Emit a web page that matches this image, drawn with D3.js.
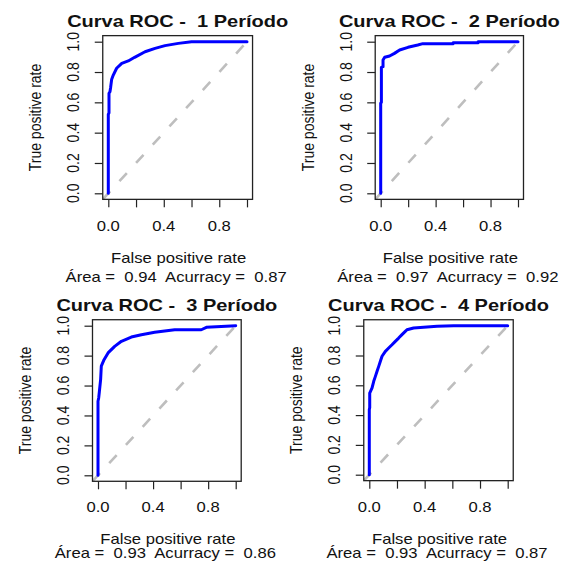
<!DOCTYPE html>
<meta charset="utf-8">
<head>
  <title>Curvas ROC por período</title>
</head>
<style>
  body { margin: 0; background: #fff; }
  svg { display: block; font-family: "Liberation Sans", Arial, sans-serif; }
  .tick line, .box { stroke: #222; }
  .lbl { fill: #111; white-space: pre; }
</style>
<body>
<script src="https://cdn.jsdelivr.net/npm/d3@7"></script>
<script>
// ROC points (false positive rate / true positive rate)
var fpr1 = [0, 0, 0.005, 0.005, 0.012, 0.017, 0.024, 0.036, 0.06, 0.097, 0.144, 0.19, 0.265, 0.337, 0.409, 0.505, 0.6, 1.0];
var tpr1 = [0, 0.52, 0.53, 0.66, 0.67, 0.70, 0.75, 0.78, 0.825, 0.857, 0.873, 0.897, 0.934, 0.956, 0.974, 0.989, 1.0, 1.0];

var fpr2 = [0, 0, 0.005, 0.005, 0.017, 0.017, 0.029, 0.065, 0.10, 0.138, 0.199, 0.27, 0.307, 0.527, 0.527, 0.709, 0.709, 1.0];
var tpr2 = [0, 0.594, 0.6, 0.831, 0.835, 0.879, 0.897, 0.906, 0.923, 0.945, 0.963, 0.978, 0.987, 0.987, 0.993, 0.993, 1.0, 1.0];

var fpr3 = [0, 0, 0.005, 0.01, 0.019, 0.024, 0.044, 0.073, 0.121, 0.17, 0.242, 0.315, 0.412, 0.557, 0.75, 0.787, 0.895, 1.0];
var tpr3 = [0, 0.495, 0.517, 0.56, 0.64, 0.73, 0.773, 0.818, 0.862, 0.896, 0.924, 0.94, 0.956, 0.973, 0.973, 0.989, 0.995, 1.0];

var fpr4 = [0, 0, 0.003, 0.003, 0.02, 0.032, 0.044, 0.056, 0.068, 0.08, 0.092, 0.116, 0.14, 0.164, 0.188, 0.212, 0.236, 0.26, 0.272, 0.32, 0.49, 0.61, 1.0];
var tpr4 = [0, 0.436, 0.45, 0.548, 0.582, 0.627, 0.66, 0.694, 0.727, 0.761, 0.795, 0.828, 0.85, 0.872, 0.895, 0.917, 0.94, 0.962, 0.973, 0.985, 0.996, 1.0, 1.0];

var periods = [1, 2, 3, 4];
var areas = ["0.94", "0.97", "0.93", "0.93"];
var accuracies = ["0.87", "0.92", "0.86", "0.87"];

var tickValues = [0, 0.2, 0.4, 0.6, 0.8, 1];
var xTickLabels = ["0.0", "", "0.4", "", "0.8", ""];
var yTickLabels = ["0.0", "0.2", "0.4", "0.6", "0.8", "1.0"];

var fprs = [fpr1, fpr2, fpr3, fpr4],
    tprs = [tpr1, tpr2, tpr3, tpr4];

// panel placement: pixel position of 0 and 1 on each axis, and text baselines
var layout = [
  {x0: 108.3, x1: 247.0, y0: 193.3, y1: 41.7, title: 27,  ticks: 231,   xlab: 263, sub: 281.5},
  {x0: 380.7, x1: 518.0, y0: 193.3, y1: 41.7, title: 27,  ticks: 231,   xlab: 263, sub: 281.5},
  {x0: 98.0,  x1: 235.7, y0: 475.3, y1: 325.7, title: 311, ticks: 511.5, xlab: 544, sub: 558},
  {x0: 369.3, x1: 507.7, y0: 474.7, y1: 325.7, title: 311, ticks: 511.5, xlab: 544, sub: 558}
];

var sx = 1.19; // the picture is a bit wider than tall, so glyphs are too

var svg = d3.select("body").append("svg")
    .attr("width", 571)
    .attr("height", 564);

svg.append("rect").attr("width", 571).attr("height", 564).attr("fill", "#fff");

// text helper, stretched horizontally like the reference
function label(g, x, y, str, size, rotated, bold) {
  return g.append("text")
      .attr("class", "lbl")
      .attr("transform", "translate(" + x + "," + y + ") scale(" + sx + ",1)" + (rotated ? " rotate(-90)" : ""))
      .attr("text-anchor", "middle")
      .attr("dy", rotated ? "0.36em" : null)
      .style("font-size", size + "px")
      .style("font-weight", bold ? "bold" : "normal")
      .text(str);
}

periods.forEach(function(p, i) {
  var L = layout[i];
  var x = d3.scaleLinear().domain([0, 1]).range([L.x0, L.x1]),
      y = d3.scaleLinear().domain([0, 1]).range([L.y0, L.y1]);
  var g = svg.append("g");

  var left = x(-0.04), right = x(1.04), top = y(1.04), bottom = y(-0.04);

  g.append("clipPath").attr("id", "clip" + i)
    .append("rect")
      .attr("x", left).attr("y", top)
      .attr("width", right - left).attr("height", bottom - top);

  // reference diagonal
  g.append("line")
      .attr("clip-path", "url(#clip" + i + ")")
      .attr("x1", x(-0.04)).attr("y1", y(-0.04))
      .attr("x2", x(1.04)).attr("y2", y(1.04))
      .attr("stroke", "#bebebe")
      .attr("stroke-width", 2.6)
      .attr("stroke-dasharray", "11,13.7");

  // roc curve
  var pts = fprs[i].map(function(f, k) { return [f, tprs[i][k]]; });
  g.append("path")
      .datum(pts)
      .attr("fill", "none")
      .attr("stroke", "#0000ff")
      .attr("stroke-width", 3)
      .attr("stroke-linejoin", "round")
      .attr("stroke-linecap", "round")
      .attr("d", d3.line().x(function(d) { return x(d[0]); }).y(function(d) { return y(d[1]); }));

  // box
  g.append("rect")
      .attr("class", "box")
      .attr("x", left).attr("y", top)
      .attr("width", right - left).attr("height", bottom - top)
      .attr("fill", "none")
      .attr("stroke-width", 1.3);

  // axes (ticks only, the box gives the axis line)
  var xa = g.append("g")
      .attr("transform", "translate(0," + bottom + ")")
      .call(d3.axisBottom(x).tickValues(tickValues).tickSize(8).tickFormat(""));
  var ya = g.append("g")
      .attr("transform", "translate(" + left + ",0)")
      .call(d3.axisLeft(y).tickValues(tickValues).tickSize(8).tickFormat(""));
  xa.select(".domain").remove();
  ya.select(".domain").remove();
  g.selectAll(".tick line").attr("stroke-width", 1.2);

  tickValues.forEach(function(v, k) {
    if (xTickLabels[k]) label(g, x(v), L.ticks, xTickLabels[k], 14);
    label(g, x(0) - 35, y(v), yTickLabels[k], 14, true);
  });

  label(g, x(0.5), L.title, "Curva ROC -  " + p + " Período", 16.8, false, true);
  label(g, x(0) - 73, y(0.5), "True positive rate", 14, true);
  label(g, x(0.5) + 1, L.xlab, "False positive rate", 14);
  label(g, x(0.5) - 1.5, L.sub, "Área =  " + areas[i] + "  Acurracy =  " + accuracies[i], 14);
});
</script>
</body>
